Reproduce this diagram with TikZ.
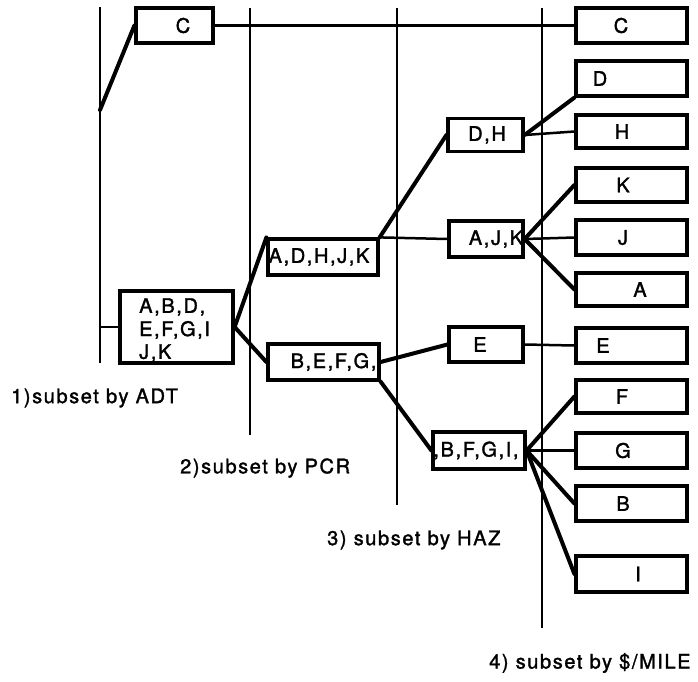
\documentclass[tikz,border=0pt]{standalone}
\usepackage{fontspec}
\setmainfont{TeX Gyre Heros}[LetterSpace=8, FakeBold=1.6]
\begin{document}
\begin{tikzpicture}[x=1pt,y=-1pt,
  vline/.style={line width=2.6pt},
  box/.style={draw, line width=3.2pt, fill=white, inner sep=0pt},
  conn/.style={line width=4pt, line cap=round},
  hconn/.style={line width=2.5pt},
  lbl/.style={inner sep=0pt, font=\fontsize{20}{23}\selectfont},
  capt/.style={inner sep=0pt, anchor=west, font=\fontsize{20}{23}\selectfont}]
\useasboundingbox (0,0) rectangle (698,681);
% vertical lines
\coordinate (v1t) at (100,7);   \coordinate (v1b) at (100,363);
\coordinate (v2t) at (250,8);   \coordinate (v2b) at (250,435);
\coordinate (v3t) at (397,8);   \coordinate (v3b) at (397,505);
\coordinate (v4t) at (542,8);   \coordinate (v4b) at (542,628);
\draw[vline] (v1t) -- (v1b);
\draw[vline] (v2t) -- (v2b);
\draw[vline] (v3t) -- (v3b);
\draw[vline] (v4t) -- (v4b);
\coordinate (j1) at (100,110);
% column 1
\node[box, minimum width=77pt, minimum height=35pt] (c1) at (174.5,25.5) {};
\node[box, minimum width=113pt, minimum height=72pt] (abd) at (176.5,327) {};
% column 2
\node[box, minimum width=110pt, minimum height=36pt] (adh) at (323,257) {};
\node[box, minimum width=111pt, minimum height=36pt] (bef) at (323.5,362) {};
% column 3
\node[box, minimum width=75pt, minimum height=33pt] (dh) at (485.5,135) {};
\node[box, minimum width=74pt, minimum height=36pt] (ajk) at (486,239) {};
\node[box, minimum width=74pt, minimum height=35pt] (e3) at (486,344.5) {};
\node[box, minimum width=92pt, minimum height=37pt] (bfgi) at (479,450.5) {};
% column 4
\node[box, minimum width=111pt, minimum height=35pt] (rc) at (631.5,25.5) {};
\node[box, minimum width=111pt, minimum height=35pt] (rd) at (631.5,78.5) {};
\node[box, minimum width=111pt, minimum height=33pt] (rh) at (631.5,131.5) {};
\node[box, minimum width=111pt, minimum height=34pt] (rk) at (631.5,185) {};
\node[box, minimum width=111pt, minimum height=35pt] (rj) at (631.5,237.5) {};
\node[box, minimum width=111pt, minimum height=33pt] (ra) at (631.5,289.5) {};
\node[box, minimum width=111pt, minimum height=35pt] (re) at (631.5,345.5) {};
\node[box, minimum width=111pt, minimum height=33pt] (rf) at (631.5,396.5) {};
\node[box, minimum width=111pt, minimum height=35pt] (rg) at (631.5,450.5) {};
\node[box, minimum width=111pt, minimum height=35pt] (rb) at (631.5,503.5) {};
\node[box, minimum width=111pt, minimum height=36pt] (ri) at (631.5,574) {};
% connectors
\draw[conn] (j1) -- (c1.west);
\draw[hconn] (c1.east) -- (rc.west);
\draw[hconn] (abd.west -| v1t) -- (abd.west);
\draw[conn] (adh.north west) -- (abd.east) -- (bef.west);
\draw[conn] (dh.west) -- (adh.north east);
\draw[hconn] (adh.north east) -- (ajk.west);
\draw[conn] (bef.east) -- (e3.west);
\draw[conn] (bef.south east) -- (bfgi.west);
\draw[conn] (rd.south west) -- (dh.east);
\draw[hconn] (dh.east) -- (rh.west);
\draw[conn] (rk.west) -- (ajk.east) -- (ra.west);
\draw[hconn] (ajk.east) -- (rj.west);
\draw[hconn] (e3.east) -- (re.west);
\draw[conn] (rf.west) -- (bfgi.east) -- (rb.west);
\draw[conn] (bfgi.east) -- (ri.west);
\draw[hconn] (bfgi.east) -- (rg.west);
% labels
\node[lbl] (c1t) at (183,25.5) {C};
\node[lbl, anchor=west] (abd1) at (139,307) {A,B,D,};
\node[lbl, anchor=west] (abd2) at (139,330) {E,F,G,I};
\node[lbl, anchor=west] (abd3) at (139,353) {J,K};
\node[lbl] (adht) at (319,257) {A,D,H,J,K};
\node[lbl] (beft) at (333.5,362) {B,E,F,G,};
\node[lbl] (dht) at (487,135) {D,H};
\node[lbl] (ajkt) at (496,239) {A,J,K};
\node[lbl] (e3t) at (480,344.5) {E};
\node[lbl] (bfgit) at (476,450.5) {,B,F,G,I,};
\node[lbl] (rct) at (621,25.5) {C};
\node[lbl] (rdt) at (600,78.5) {D};
\node[lbl] (rht) at (622,131.5) {H};
\node[lbl] (rkt) at (623,185) {K};
\node[lbl] (rjt) at (623,237.5) {J};
\node[lbl] (rat) at (640,289.5) {A};
\node[lbl] (ret) at (603,345.5) {E};
\node[lbl] (rft) at (622,396.5) {F};
\node[lbl] (rgt) at (623,450.5) {G};
\node[lbl] (rbt) at (623,503.5) {B};
\node[lbl] (rit) at (638,574) {I};
% captions
\node[capt] (cap1) at (11,398) {1)subset by ADT};
\node[capt] (cap2) at (180,468) {2)subset by PCR};
\node[capt] (cap3) at (327,540) {3) subset by HAZ};
\node[capt] (cap4) at (489,663) {4) subset by \$/MILE};
\end{tikzpicture}
\end{document}
